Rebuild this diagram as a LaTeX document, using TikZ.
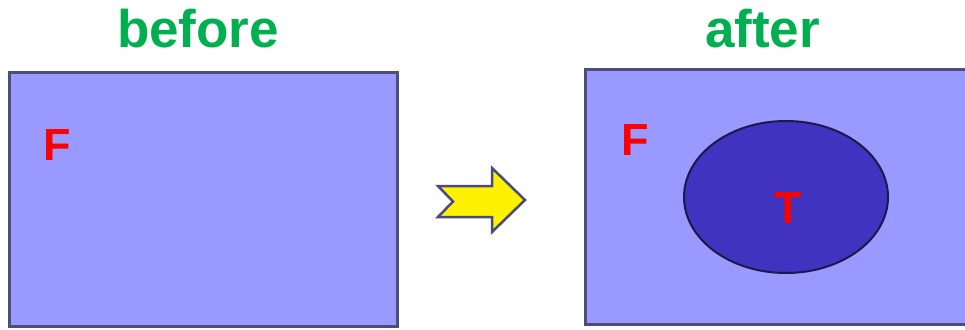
\documentclass[tikz,border=0pt]{standalone}
\usepackage{fontspec}
\setmainfont{Liberation Sans}
\usetikzlibrary{shapes.geometric}
\definecolor{setfill}{HTML}{9999FF}
\definecolor{setedge}{HTML}{4D4D7A}
\definecolor{subfill}{HTML}{4033BF}
\definecolor{subedge}{HTML}{1A1A4D}
\definecolor{titlegreen}{HTML}{00B050}
\definecolor{arrowedge}{HTML}{4A4A80}
\tikzset{
  x=1pt, y=-1pt,
  universe/.style={fill=setfill, draw=setedge, line width=3pt},
  subset/.style={ellipse, fill=subfill, draw=subedge, line width=2pt,
    minimum width=204pt, minimum height=152pt, inner sep=0pt},
  title/.style={anchor=base, inner sep=0pt, text=titlegreen,
    font=\fontsize{53}{60}\selectfont\bfseries},
  letter/.style={anchor=base, inner sep=0pt, text=red,
    font=\fontsize{45}{50}\selectfont\bfseries},
  bigarrow/.style={fill=yellow, draw=arrowedge, line width=2.5pt, line join=miter}
}
\begin{document}
\begin{tikzpicture}
\useasboundingbox (0,0) rectangle (965,329);
\clip (0,0) rectangle (965,329);

% headings
\node[title] (before) at (198,48) {before};
\node[title] (after) at (762.5,48) {after};

% set before the change
\draw[universe] (9,72) rectangle (397,326);
\node[letter] (f1) at (57.5,160) {F};

% transition arrow
\draw[bigarrow] (438,186) -- (492,186) -- (492,168) -- (525,200)
  -- (492,232) -- (492,217) -- (438,217) -- (453,201.5) -- cycle;

% set after the change
\draw[universe] (585,69) rectangle (975,324);
\node[letter] (f2) at (635,155) {F};
\node[subset] (sub) at (786,197) {};
\node[letter] (t) at (788.5,223) {T};
\end{tikzpicture}
\end{document}
